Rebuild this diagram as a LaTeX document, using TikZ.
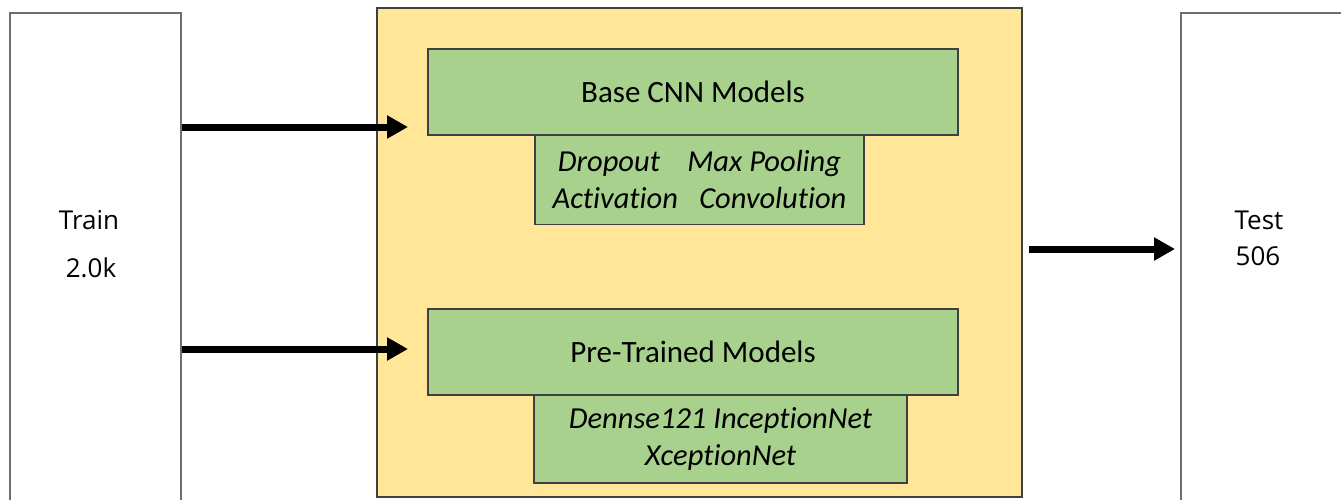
\documentclass[tikz,border=0pt]{standalone}
\usepackage{fontspec}
\setmainfont{Carlito}[Ligatures=NoCommon]
\newfontfamily\labelfont{Open Sans}
\usetikzlibrary{arrows.meta}
\definecolor{goldfill}{HTML}{FFE699}
\definecolor{greenfill}{HTML}{A9D18E}
\definecolor{boxline}{HTML}{6E6E6E}
\definecolor{darkline}{HTML}{404040}
\tikzset{
  sidebox/.style={draw=boxline, line width=1.3pt, fill=white, minimum width=171pt, minimum height=507pt, inner sep=0pt},
  panel/.style={draw=darkline, line width=1.2pt, fill=goldfill, inner sep=0pt},
  greenbox/.style={draw=darkline, line width=1.2pt, fill=greenfill, inner sep=0pt, font=\fontsize{31}{37}\selectfont},
  subbox/.style={draw=darkline, line width=1.2pt, fill=greenfill, inner sep=0pt, align=center, font=\fontsize{30.5}{37}\selectfont\itshape},
  lab/.style={font=\labelfont\fontsize{26}{30}\selectfont, inner sep=0pt},
  arr/.style={line width=7pt, -{Triangle[length=21pt,width=22pt]}}
}
\begin{document}
\begin{tikzpicture}[x=1pt,y=-1pt]
\useasboundingbox (0,0) rectangle (1341,499);
\clip (0,0) rectangle (1341,499);
% side boxes
\node[sidebox] (train) at (95.5,266.5) {};
\node[sidebox, minimum width=200pt] (test) at (1281,266.5) {};
\node[lab] (trainlab) at (89,220) {Train};
\node[lab] (trainnum) at (91,268) {2.0k};
\node[lab] (testlab) at (1259,220) {Test};
\node[lab] (testnum) at (1258,256) {506};
% central panel
\node[panel, minimum width=645pt, minimum height=489pt] (panel) at (699.5,252.5) {};
\node[greenbox, minimum width=530pt, minimum height=86pt] (base) at (693,92) {Base CNN Models};
\node[subbox, minimum width=329pt, minimum height=89pt] (basesub) at (699.5,180)
  {Dropout\hspace{0.9em}Max Pooling\\Activation\hspace{0.7em}Convolution};
\node[greenbox, minimum width=530pt, minimum height=86pt] (pre) at (693,352) {Pre-Trained Models};
\node[subbox, minimum width=373pt, minimum height=88pt] (presub) at (720.5,439)
  {Dennse121 InceptionNet\\XceptionNet};
% arrows
\coordinate (a1) at (408,127);
\coordinate (a2) at (408,349);
\coordinate (a3s) at (1029,249);
\coordinate (a3) at (1175,249);
\draw[arr] (train.east |- a1) -- (a1);
\draw[arr] (train.east |- a2) -- (a2);
\draw[arr] (a3s) -- (a3);
\end{tikzpicture}
\end{document}
